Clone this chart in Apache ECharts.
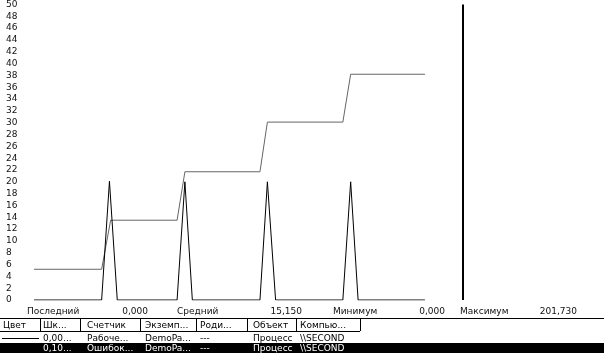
<!DOCTYPE html>
<html>
<head>
<meta charset="utf-8">
<script src="https://cdn.jsdelivr.net/npm/echarts@6/dist/echarts.min.js"></script>
<style>
  html, body { margin: 0; padding: 0; background: #fff; }
  #chart { width: 604px; height: 353px; }
</style>
</head>
<body>
<div id="chart"></div>
<script>
// sample times (graph units, 0..100 is the drawn history) and counter values
const spikeTimes = [0, 17.3, 19.3, 21.3, 36.6, 38.6, 40.5, 57.8, 59.7, 61.8, 79.0, 81.0, 82.9, 100];
const spikeValues = [0, 0, 20.1, 0, 0, 20, 0, 0, 20, 0, 0, 20, 0, 0];
const stepTimes = [0, 17.3, 19.6, 36.6, 38.6, 57.8, 59.7, 79.0, 81.0, 100];
const stepValues = [5.2, 5.2, 13.5, 13.5, 21.7, 21.7, 30.1, 30.1, 38.2, 38.2];
const currentTime = 109.6;

const statLabels = ["Последний", "Средний", "Минимум", "Максимум"];
const statValues = ["0,000", "15,150", "0,000", "201,730"];

const headers = ["Цвет", "Шк...", "Счетчик", "Экземп...", "Роди...", "Объект", "Компью..."];
const row1 = ["", "0,00...", "Рабоче...", "DemoPa...", "---", "Процесс", "\\\\SECOND"];
const row2 = ["", "0,10...", "Ошибок...", "DemoPa...", "---", "Процесс", "\\\\SECOND"];

const font = '9px "DejaVu Sans"';
const colX = [3, 43, 87, 145, 200, 253, 300];
const sepX = [40, 80, 140, 196, 247, 296, 360];
const statLabelX = [27, 177, 333, 460];
const statValueX = [148, 302, 445, 577];

const chart = echarts.init(document.getElementById("chart"));

const graphic = [];
statLabels.forEach((t, i) => {
  graphic.push({ type: "text", x: statLabelX[i], y: 307,
    style: { text: t, font: font, fill: "#111" } });
  graphic.push({ type: "text", x: statValueX[i], y: 307,
    style: { text: statValues[i], font: font, fill: "#111", align: "right" } });
});
// table header
graphic.push({ type: "line", shape: { x1: 0, y1: 318.5, x2: 604, y2: 318.5 }, style: { stroke: "#000", lineWidth: 1 } });
graphic.push({ type: "line", shape: { x1: 0, y1: 331.5, x2: 360, y2: 331.5 }, style: { stroke: "#000", lineWidth: 1 } });
sepX.forEach(x => {
  graphic.push({ type: "line", shape: { x1: x + 0.5, y1: 319, x2: x + 0.5, y2: 331 }, style: { stroke: "#000", lineWidth: 1 } });
});
headers.forEach((t, i) => {
  graphic.push({ type: "text", x: colX[i], y: 321, style: { text: t, font: font, fill: "#000" } });
});
// row 1
graphic.push({ type: "line", shape: { x1: 2, y1: 338.5, x2: 39, y2: 338.5 }, style: { stroke: "#000", lineWidth: 1 } });
row1.forEach((t, i) => {
  if (t) graphic.push({ type: "text", x: colX[i], y: 334, style: { text: t, font: font, fill: "#000" } });
});
// row 2 (selected)
graphic.push({ type: "rect", shape: { x: 0, y: 343, width: 604, height: 10 }, style: { fill: "#000" } });
row2.forEach((t, i) => {
  if (t) graphic.push({ type: "text", x: colX[i], y: 344, style: { text: t, font: font, fill: "#fff" } });
});

chart.setOption({
  animation: false,
  backgroundColor: "#fff",
  grid: { left: 34, right: 0, top: 3, bottom: 53 },
  xAxis: { type: "value", min: 0, max: 145.8, show: false },
  yAxis: {
    type: "value", min: 0, max: 50, interval: 2,
    axisLine: { show: false }, axisTick: { show: false }, splitLine: { show: false },
    axisLabel: { align: "left", margin: 28, color: "#111", fontSize: 9, fontFamily: "DejaVu Sans" }
  },
  series: [
    {
      type: "line", symbol: "none",
      data: stepTimes.map((t, i) => [t, stepValues[i]]),
      lineStyle: { color: "#666", width: 1 },
      markLine: {
        silent: true, symbol: "none", label: { show: false },
        lineStyle: { color: "#000", width: 2, type: "solid" },
        data: [{ xAxis: currentTime }]
      }
    },
    {
      type: "line", symbol: "none",
      data: spikeTimes.map((t, i) => [t, spikeValues[i]]),
      lineStyle: { color: "#000", width: 1 }
    }
  ],
  graphic: graphic
});
</script>
</body>
</html>
